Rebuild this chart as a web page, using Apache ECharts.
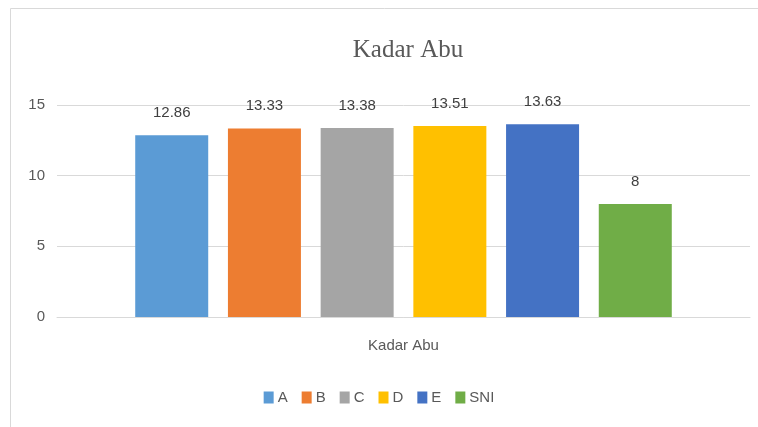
<!DOCTYPE html>
<html>
<head>
<meta charset="utf-8">
<script src="https://cdn.jsdelivr.net/npm/echarts@6/dist/echarts.min.js"></script>
<style>
  html, body { margin: 0; padding: 0; background: #fff; }
  #chart { width: 758px; height: 427px; }
</style>
</head>
<body>
<div id="chart"></div>
<script>
var categories = ["Kadar Abu"];
var names = ["A", "B", "C", "D", "E", "SNI"];
var values = [12.86, 13.33, 13.38, 13.51, 13.63, 8];
var colors = ["#5B9BD5", "#ED7D31", "#A5A5A5", "#FFC000", "#4472C4", "#70AD47"];
var yTicks = [0, 5, 10, 15];

var font = "'Liberation Sans Narrow', 'Liberation Sans', sans-serif";

var series = [];
for (var i = 0; i < names.length; i++) {
    series.push({
        name: names[i],
        type: 'bar',
        data: [values[i]],
        barWidth: 73,
        barGap: '27%',
        itemStyle: { color: colors[i] },
        label: {
            show: true,
            position: 'top',
            distance: 15,
            color: '#404040',
            fontSize: 15,
            fontFamily: font
        }
    });
}

var myChart = echarts.init(document.getElementById('chart'));
myChart.setOption({
    animation: false,
    title: {
        text: 'Kadar Abu',
        left: 403,
        top: 33,
        textAlign: 'center',
        textStyle: {
            fontFamily: "'Liberation Serif', serif",
            fontWeight: 'normal',
            fontSize: 25,
            color: '#595959'
        }
    },
    graphic: [{
        type: 'rect',
        shape: { x: 10.5, y: 8.5, width: 760, height: 430 },
        style: { fill: 'none', stroke: '#d9d9d9', lineWidth: 1 },
        silent: true
    }],
    legend: {
        bottom: 17,
        left: 'center',
        itemWidth: 10,
        itemHeight: 12,
        itemGap: 14,
        icon: 'rect',
        textStyle: { fontFamily: font, fontSize: 15, color: '#595959', padding: [0, 0, 0, -1] }
    },
    grid: { left: 57, right: 8, top: 105, bottom: 110 },
    xAxis: {
        type: 'category',
        data: categories,
        axisLine: { lineStyle: { color: '#d9d9d9' } },
        axisTick: { show: false },
        axisLabel: { color: '#595959', fontSize: 15, fontFamily: font, margin: 21 }
    },
    yAxis: {
        type: 'value',
        min: yTicks[0],
        max: yTicks[yTicks.length - 1],
        interval: 5,
        axisLine: { show: false },
        axisTick: { show: false },
        splitLine: { lineStyle: { color: '#d9d9d9' } },
        axisLabel: { color: '#595959', fontSize: 15, fontFamily: font, margin: 12 }
    },
    series: series
});
</script>
</body>
</html>
